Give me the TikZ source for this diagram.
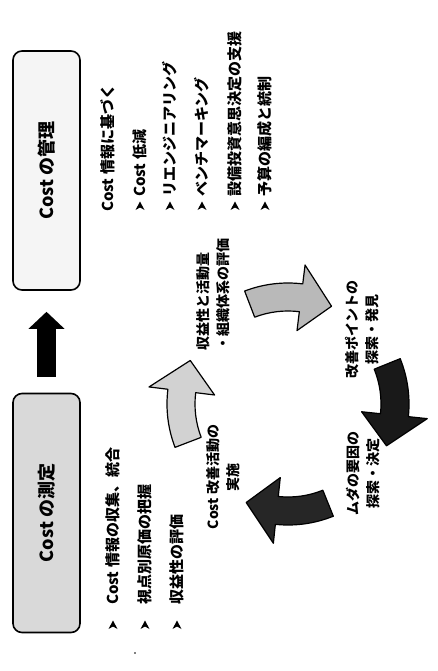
\documentclass[tikz,border=0pt]{standalone}
\usepackage{fontspec}
\setmainfont{Noto Sans CJK JP}
\usetikzlibrary{arrows.meta,positioning}

\tikzset{
  box/.style={draw, line width=1.6pt, rounded corners=9pt, rotate=90,
    minimum width=239pt, minimum height=67pt,
    font=\fontsize{18}{20}\selectfont\bfseries},
  item/.style={rotate=90, anchor=west, inner sep=0pt,
    font=\fontsize{15}{17}\selectfont\bfseries},
  bul/.pic={\fill (0,-4.5) -- (4.5,4) -- (0,1.5) -- (-4.5,4) -- cycle;},
  cyc/.style={rotate=90, inner sep=0pt,
    font=\fontsize{14}{20}\selectfont\bfseries},
  wedge/.style={draw, line width=1.2pt, line join=round},
  bigarrow/.style={line width=19pt, -{Triangle[width=35pt,length=17pt]},
    shorten <=16pt, shorten >=21pt},
}

\begin{document}
\begin{tikzpicture}[x=1pt,y=-1pt]
    \useasboundingbox (0,0) rectangle (438,671);

    % the two boxes
    \node[box, fill=gray!8] (manage) at (46.5,170.5) {Cost の管理};
    \node[box, fill=gray!30] (measure) at (46.5,513) {Cost の測定};
    \draw[bigarrow] (measure) -- (manage);

    % left list
    \node[item] (collect) at (113,605) {Cost 情報の収集、統合};
    \node[item] (view) at (145,605) {視点別原価の把握};
    \node[item] (profit) at (177,605) {収益性の評価};
    \pic at (113,625) {bul};
    \pic at (145,625) {bul};
    \pic at (177,625) {bul};

    % right list
    \node[item] (basis) at (108,212) {Cost 情報に基づく};
    \node[item] (cut) at (140,197) {Cost 低減};
    \node[item] (reeng) at (170,197) {リエンジニアリング};
    \node[item] (bench) at (202,197) {ベンチマーキング};
    \node[item] (invest) at (235,197) {設備投資意思決定の支援};
    \node[item] (budget) at (265,197) {予算の編成と統制};
    \pic at (140,206) {bul};
    \pic at (170,206) {bul};
    \pic at (202,206) {bul};
    \pic at (235,206) {bul};
    \pic at (265,206) {bul};

    % cycle
    \node[cyc, align=left, anchor=west] (evalnote) at (213,351) {収益性と活動量\\・組織体系の評価};
    \node[cyc, align=center] (findnote) at (362,329) {改善ポイントの\\探索・発見};
    \node[cyc, align=center] (causenote) at (363,473) {ムダの要因の\\探索・決定};
    \node[cyc, align=center] (actnote) at (223,477) {Cost 改善活動の\\実施};

    \begin{scope}[shift={(288,404)}]
    \draw[wedge, fill=gray!35] (159:121) arc[start angle=159, end angle=187, radius=121]
      -- (187:140) -- (204:107) -- (187:74) -- (187:93)
      arc[start angle=187, end angle=159, radius=93] -- cycle;
    \draw[wedge, fill=gray!55] (249:121) arc[start angle=249, end angle=277, radius=121]
      -- (277:140) -- (294:107) -- (277:74) -- (277:93)
      arc[start angle=277, end angle=249, radius=93] -- cycle;
    \draw[wedge, fill=black!90] (338:121) arc[start angle=338, end angle=366, radius=121]
      -- (366:140) -- (383:107) -- (366:74) -- (366:93)
      arc[start angle=366, end angle=338, radius=93] -- cycle;
    \draw[wedge, fill=black!85] (68:121) arc[start angle=68, end angle=96, radius=121]
      -- (96:140) -- (113:107) -- (96:74) -- (96:93)
      arc[start angle=96, end angle=68, radius=93] -- cycle;
    \end{scope}

    \fill (135,653) circle (0.9);
\end{tikzpicture}
\end{document}
